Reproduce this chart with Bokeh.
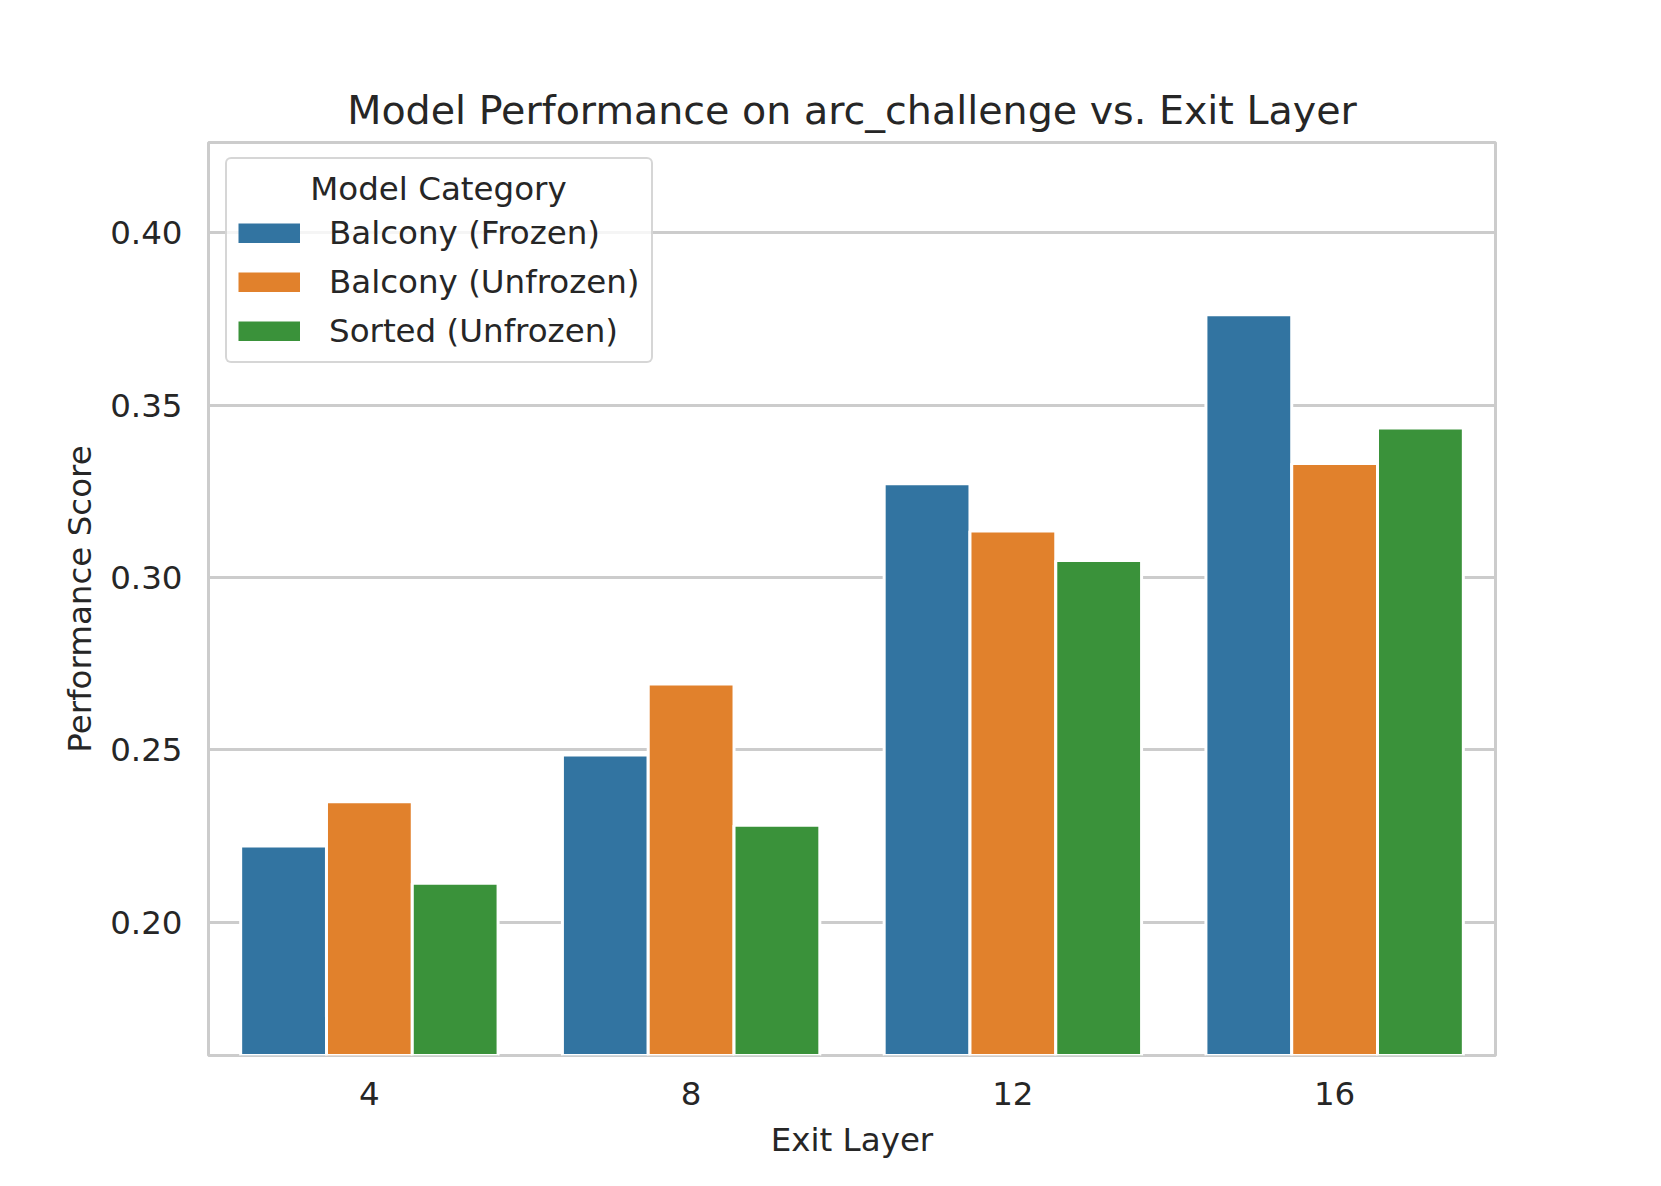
from bokeh.plotting import figure
from bokeh.models import (FactorRange, Range1d, FixedTicker, PrintfTickFormatter,
                          ColumnDataSource, Legend, LegendItem)
from bokeh.transform import dodge
from bokeh.embed import file_html
from bokeh.resources import INLINE

# Data
layers = ["4", "8", "12", "16"]
series_names = ["Balcony (Frozen)", "Balcony (Unfrozen)", "Sorted (Unfrozen)"]
balcony_frozen = [0.2221, 0.2485, 0.3272, 0.3762]
balcony_unfrozen = [0.2349, 0.2691, 0.3135, 0.3331]
sorted_unfrozen = [0.2113, 0.2281, 0.3049, 0.3434]
y_ticks = [0.20, 0.25, 0.30, 0.35, 0.40]
legend_title = "Model Category"

colors = ["#3274a1", "#e1812c", "#3a923a"]
FONT = "DejaVu Sans"
TXT = "#262626"

all_vals = balcony_frozen + balcony_unfrozen + sorted_unfrozen
ymin = min(all_vals) - 0.05
ymax = max(all_vals) + 0.05

src = ColumnDataSource(dict(layer=layers, bf=balcony_frozen, bu=balcony_unfrozen, su=sorted_unfrozen))

p = figure(width=1645, height=1170, output_backend="svg", toolbar_location=None,
           x_range=FactorRange(factors=layers), y_range=Range1d(ymin, ymax),
           title="Model Performance on arc_challenge vs. Exit Layer",
           min_border_left=208, min_border_right=150, min_border_top=142, min_border_bottom=115)

bw = 0.8 / 3
cols = ["bf", "bu", "su"]
offsets = [-bw, 0.0, bw]
items = []
for col, off, c, name in zip(cols, offsets, colors, series_names):
    p.vbar(x=dodge("layer", off, range=p.x_range), top=col, bottom=0, width=bw, source=src,
           fill_color=c, line_color="white", line_width=3)
    # legend key renderer (kept below the visible y range so only its legend swatch shows)
    sw = p.line(x=[layers[0], layers[0]], y=[ymin - 1, ymin - 1], line_color=c,
                line_width=20, line_cap="butt")
    items.append(LegendItem(label=name, renderers=[sw]))

p.background_fill_color = "white"
p.border_fill_color = "white"
p.outline_line_color = "#cccccc"
p.outline_line_width = 3

p.title.text_font = FONT
p.title.text_font_size = "39.6px"
p.title.text_font_style = "normal"
p.title.text_color = TXT
p.title.align = "center"
p.title.standoff = 20

p.yaxis.ticker = FixedTicker(ticks=y_ticks)
p.yaxis.formatter = PrintfTickFormatter(format="%.2f")
for ax in (p.xaxis[0], p.yaxis[0]):
    ax.axis_line_color = None
    ax.major_tick_line_color = None
    ax.minor_tick_line_color = None
    ax.major_label_text_font = FONT
    ax.major_label_text_font_size = "32.5px"
    ax.major_label_text_color = TXT
    ax.axis_label_text_font = FONT
    ax.axis_label_text_font_size = "32.5px"
    ax.axis_label_text_font_style = "normal"
    ax.axis_label_text_color = TXT
    ax.major_label_standoff = 20
p.xaxis.axis_label_standoff = 13
p.yaxis.axis_label_standoff = 8

p.xaxis.axis_label = "Exit Layer"
p.yaxis.axis_label = "Performance Score"

p.xgrid.grid_line_color = None
p.ygrid.grid_line_color = "#cccccc"
p.ygrid.grid_line_width = 3

# location: (left, bottom) of the legend box in px from the frame's bottom-left corner
lg = Legend(items=items, location=(17, 692))
# non-breaking spaces centre the title over the entries, as in the original
lg.title = "\u00a0" * 7 + legend_title
lg.title_text_font = FONT
lg.title_text_font_size = "32.5px"
lg.title_text_font_style = "normal"
lg.title_text_color = TXT
lg.title_standoff = 6
lg.label_text_font = FONT
lg.label_text_font_size = "32.5px"
lg.label_text_color = TXT
lg.glyph_width = 62
lg.glyph_height = 20
lg.label_standoff = 29
lg.padding = 11
lg.spacing = 11
lg.border_line_color = "#cccccc"
lg.border_line_alpha = 0.8
lg.border_line_width = 2.5
lg.background_fill_color = "white"
lg.background_fill_alpha = 0.8
if "border_radius" in Legend.properties():
    lg.border_radius = 6
p.add_layout(lg, "center")

open("out.html", "w").write(file_html(p, INLINE))
